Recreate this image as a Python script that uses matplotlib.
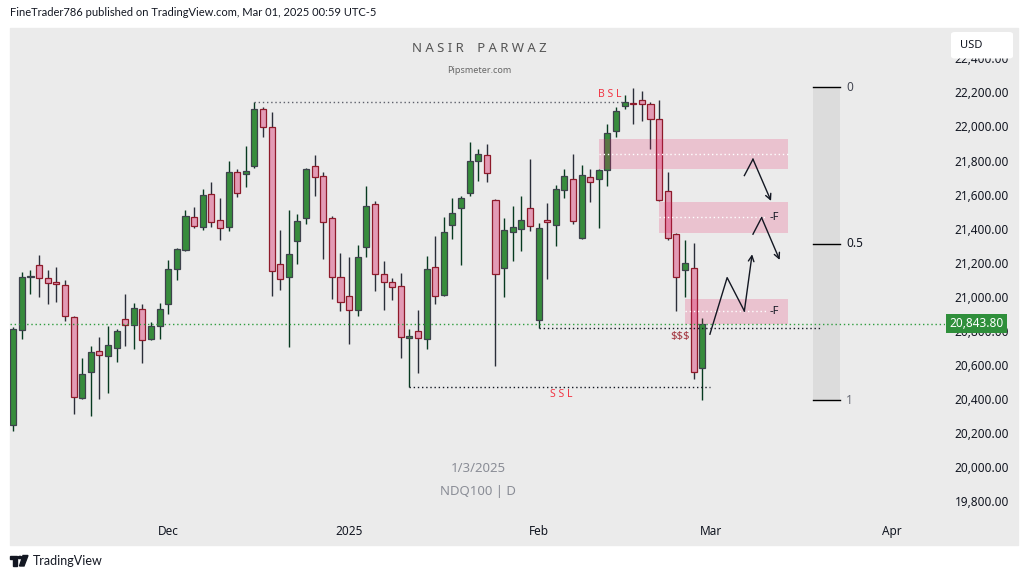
import matplotlib
matplotlib.use("Agg")
import matplotlib.pyplot as plt
import matplotlib.patches as mpatches
from matplotlib.transforms import blended_transform_factory
import numpy as np

# Velas diarias NDQ100 (índice de barra 0..80)
opens = [20246, 20804, 21114, 21186, 21109, 21086, 21068, 20880, 20405, 20558,
         20681, 20651, 20698, 20869, 20837, 20927, 20751, 20828, 20957, 21162,
         21274, 21467, 21409, 21602, 21450, 21409, 21732, 21720, 21767, 22101,
         21996, 21192, 21115, 21327, 21462, 21767, 21708, 21462, 21115, 21004,
         20922, 21291, 21544, 21133, 21086, 21062, 20757, 20798, 20751, 21174,
         21010, 21420, 21520, 21608, 21796, 21831, 21567, 21168, 21379, 21397,
         21520, 20863, 21450, 21420, 21626, 21690, 21344, 21702, 21690, 21743,
         21972, 22119, 22134, 22154, 22131, 22043, 21620, 21368, 21156, 21168,
         20581]
highs = [20822, 21146, 21158, 21246, 21158, 21176, 21099, 20885, 20640, 20710,
         20763, 20828, 20810, 21017, 20963, 20957, 20851, 20963, 21215, 21285,
         21508, 21526, 21632, 21673, 21579, 21796, 21749, 21884, 22142, 22113,
         22084, 21391, 21508, 21485, 21755, 21831, 21732, 21473, 21256, 21233,
         21303, 21649, 21561, 21209, 21109, 21139, 20810, 20922, 21238, 21356,
         21467, 21579, 21591, 21908, 21867, 21896, 21572, 21462, 21532, 21591,
         21808, 21432, 21550, 21655, 21749, 21837, 21773, 21749, 21749, 22013,
         22113, 22184, 22225, 22207, 22142, 22154, 21732, 21374, 21332, 21315,
         20875]
lows = [20215, 20755, 21019, 21001, 20960, 20972, 20860, 20315, 20399, 20303,
        20403, 20438, 20620, 20712, 20696, 20614, 20745, 20751, 20898, 21098,
        21268, 21403, 21391, 21409, 21332, 21385, 21585, 21647, 21755, 21937,
        21007, 21042, 20708, 21192, 21426, 21594, 21224, 20990, 20919, 20725,
        20890, 21236, 21037, 20925, 20984, 20643, 20470, 20555, 20696, 20960,
        21004, 21338, 21189, 21591, 21679, 21673, 20596, 20998, 21209, 21268,
        21385, 20816, 21103, 21297, 21579, 21426, 21340, 21555, 21403, 21649,
        21937, 22101, 22013, 22034, 21867, 21560, 21332, 20916, 20998, 20517,
        20393]
closes = [20810, 21115, 21121, 21109, 21080, 21074, 20886, 20411, 20546, 20675,
          20657, 20716, 20800, 20833, 20933, 20745, 20828, 20927, 21162, 21280,
          21473, 21415, 21597, 21438, 21403, 21732, 21608, 21737, 22101, 21996,
          21150, 21103, 21250, 21444, 21749, 21702, 21438, 21115, 20968, 20922,
          21233, 21532, 21133, 21086, 21057, 20763, 20769, 20757, 21162, 21004,
          21379, 21491, 21579, 21796, 21837, 21726, 21133, 21391, 21409, 21450,
          21415, 21403, 21438, 21632, 21708, 21444, 21714, 21673, 21743, 21960,
          22090, 22142, 22131, 22131, 22043, 21567, 21344, 21115, 21197, 20558,
          20843.8]

# Eje temporal: índice de barra de cada etiqueta
tick_bars = [18, 39, 61, 81, 102]
tick_labels = ["Dec", "2025", "Feb", "Mar", "Apr"]
price_ticks = list(range(19800, 22401, 200))
last_price = 20843.8

# Zonas marcadas (barra inicial, barra final, precio bajo, precio alto)
zonas = [
    (68.0, 90.0, 21753, 21927, ""),
    (75.0, 90.0, 21375, 21557, "-F"),
    (78.0, 90.0, 20841, 20988, "-F"),
]
# Niveles de liquidez (precio, barra inicio, barra fin)
bsl = (22142, 28, 70.8)
ssl = (20470, 46, 80.9)
sss = (20816, 61, 93.8)
# Fibonacci: 0 y 1
fib_0, fib_1 = 22230, 20392
# Trayectorias proyectadas (barra, precio)
trayectorias = [
    ([80.9, 82.9, 84.9, 85.8], [20781, 21113, 20917, 21250]),
    ([85.9, 86.9, 89.0], [21368, 21465, 21217]),
    ([84.9, 85.9, 88.0], [21712, 21808, 21563]),
]

W, H = 1028, 579
BG = "#ebebeb"
GREEN_BODY = "#378c3c"
GREEN_EDGE = "#3e424c"
GREEN_WICK = "#073a20"
RED_BODY = "#e39bb5"
RED_EDGE = "#8e1a2a"
RED_WICK = "#2a2e39"
TXT = "#131722"


def fx(x):
    return x / W


def fy(y):
    return 1 - y / H


fig = plt.figure(figsize=(W / 100, H / 100), dpi=100, facecolor="white")
fig.patches.append(mpatches.Rectangle((fx(10), fy(545)), fx(1008), 517 / H,
                                      transform=fig.transFigure, color=BG, zorder=-5))
ax = fig.add_axes([fx(10), fy(515), fx(935), 487 / H])
ax.set_facecolor(BG)
for s in ax.spines.values():
    s.set_visible(False)

x = np.arange(len(opens))
o = np.array(opens)
c = np.array(closes)
hi = np.array(highs)
lo = np.array(lows)
up = c >= o

# mechas
ax.vlines(x[up], lo[up], hi[up], color=GREEN_WICK, lw=1.0, zorder=2)
ax.vlines(x[~up], lo[~up], hi[~up], color=RED_WICK, lw=1.0, zorder=2)
# cuerpos
body_h = np.maximum(np.abs(c - o), 4)
ax.bar(x[up], body_h[up], bottom=np.minimum(o, c)[up], width=0.7,
       color=GREEN_BODY, edgecolor=GREEN_EDGE, linewidth=0.9, zorder=3)
ax.bar(x[~up], body_h[~up], bottom=np.minimum(o, c)[~up], width=0.7,
       color=RED_BODY, edgecolor=RED_EDGE, linewidth=0.9, zorder=3)

# línea del último precio
ax.axhline(last_price, color="#2e9c3e", lw=1.0, ls=(0, (1, 2)), zorder=4)

# zonas rosas
for x0, x1, p0, p1, lab in zonas:
    ax.add_patch(mpatches.Rectangle((x0, p0), x1 - x0, p1 - p0, facecolor="#e91e63",
                                    alpha=0.2, edgecolor="none", zorder=5))
    mid = (p0 + p1) / 2
    fin = x1 - 2.6 if lab else x1
    ax.plot([x0, fin], [mid, mid], color="white", lw=1.0, ls=(0, (1, 2)), zorder=6)
    if lab:
        ax.text(x1 - 1.6, mid, lab, fontsize=8, color=TXT, ha="center", va="center",
                family="Noto Sans", zorder=7)

# niveles de liquidez
ax.plot([bsl[1], bsl[2]], [bsl[0], bsl[0]], color="#5d606b", lw=1.0, ls=(0, (1, 2)), zorder=4)
ax.text(69.3, bsl[0] + 45, "B S L", color="#f23645", fontsize=7.5, ha="center",
        va="center", family="Noto Sans")
ax.plot([ssl[1], ssl[2]], [ssl[0], ssl[0]], color="#131722", lw=1.0, ls=(0, (1, 2)), zorder=4)
ax.text(63.6, ssl[0] - 45, "S S L", color="#f23645", fontsize=7.5, ha="center",
        va="center", family="Noto Sans")
ax.plot([sss[1], sss[2]], [sss[0], sss[0]], color="#131722", lw=1.0, ls=(0, (1, 2)), zorder=4)
ax.text(77.4, sss[0] - 50, "$$$", color="#a0303a", fontsize=8, ha="center",
        va="center", family="Noto Sans", zorder=7)

# retroceso de Fibonacci
ax.add_patch(mpatches.Rectangle((92.9, fib_1), 3.1, fib_0 - fib_1, facecolor="#dcdcdc",
                                edgecolor="none", zorder=1))
for nivel, lab, col in [(0, "0", "#434651"), (0.5, "0.5", TXT), (1, "1", "#6a6d78")]:
    p = fib_0 - nivel * (fib_0 - fib_1)
    ax.plot([92.9, 96.0], [p, p], color="black", lw=1.0, zorder=2)
    ax.text(96.7, p, lab, fontsize=8.5, color=col, ha="left", va="center", family="Noto Sans")

# trayectorias con flecha
for bx, py in trayectorias:
    ax.plot(bx[:-1], py[:-1], color="#131722", lw=1.0, zorder=8)
    ax.annotate("", xy=(bx[-1], py[-1]), xytext=(bx[-2], py[-2]),
                arrowprops=dict(arrowstyle="->", color="#131722", lw=1.0,
                                shrinkA=0, shrinkB=0, mutation_scale=10), zorder=8)

ax.set_xlim(-0.38, 108.2)
ax.set_ylim(19720, 22578)

ax.set_xticks(tick_bars)
ax.set_xticklabels(tick_labels)
ax.tick_params(axis="x", length=0, pad=7, labelsize=8.5, labelcolor=TXT)
ax.get_xticklabels()[1].set_fontweight("bold")
ax.yaxis.tick_right()
ax.set_yticks(price_ticks)
ax.set_yticklabels([f"{p:,.2f}" for p in price_ticks])
ax.tick_params(axis="y", length=0, pad=7, labelsize=8.5, labelcolor=TXT)
for t in ax.get_xticklabels() + ax.get_yticklabels():
    t.set_family("Noto Sans")

# etiqueta del último precio
tr = blended_transform_factory(ax.transAxes, ax.transData)
ax.text(1.0045, last_price, "20,843.80", transform=tr, fontsize=8.5, color="white",
        fontweight="bold", ha="left", va="center", family="Noto Sans", zorder=10,
        clip_on=False,
        bbox=dict(boxstyle="square,pad=0.28", facecolor="#2f8f3b", edgecolor="none"))

# textos de marca de agua
fig.text(fx(479), fy(48), "N A S I R    P A R W A Z", fontsize=9.5, color="#555555",
         ha="center", va="center", family="Noto Sans")
fig.text(fx(479), fy(70), "Pipsmeter.com", fontsize=6.5, color="#666666",
         ha="center", va="center", family="Noto Sans")
fig.text(fx(478), fy(468), "1/3/2025", fontsize=9.5, color="#8a8d96",
         ha="center", va="center", family="Noto Sans")
fig.text(fx(478), fy(492), "NDQ100 | D", fontsize=9.5, color="#8a8d96",
         ha="center", va="center", family="Noto Sans")

# cabecera
fig.text(fx(10), fy(13), "FineTrader786 published on TradingView.com, Mar 01, 2025 00:59 UTC-5",
         fontsize=8, color=TXT, ha="left", va="center", family="Lato")

# caja USD
fig.patches.append(mpatches.FancyBboxPatch((fx(951), fy(58.5)), fx(62), 26.5 / H,
                                           boxstyle="round,pad=0,rounding_size=0.004",
                                           transform=fig.transFigure, facecolor="white",
                                           edgecolor="none", zorder=5))
fig.text(fx(960), fy(45), "USD", fontsize=8, color=TXT, ha="left", va="center",
         family="Noto Sans", zorder=6)

# logo TradingView
fig.patches.append(mpatches.Rectangle((fx(10), fy(559)), fx(7), 3.5 / H,
                                      transform=fig.transFigure, color=TXT, zorder=5))
fig.patches.append(mpatches.Rectangle((fx(13), fy(566)), fx(3.5), 9 / H,
                                      transform=fig.transFigure, color=TXT, zorder=5))
fig.patches.append(mpatches.Circle((fx(20), fy(557.5)), fx(2), transform=fig.transFigure,
                                   color=TXT, zorder=5))
fig.patches.append(mpatches.Polygon([(fx(23), fy(555.5)), (fx(28), fy(555.5)),
                                     (fx(24), fy(566)), (fx(19.5), fy(566))],
                                    transform=fig.transFigure, color=TXT, zorder=5))
fig.text(fx(33), fy(561), "TradingView", fontsize=9, color=TXT, ha="left", va="center",
         family="Lato")

fig.savefig("out.png", dpi=100, facecolor="white")
